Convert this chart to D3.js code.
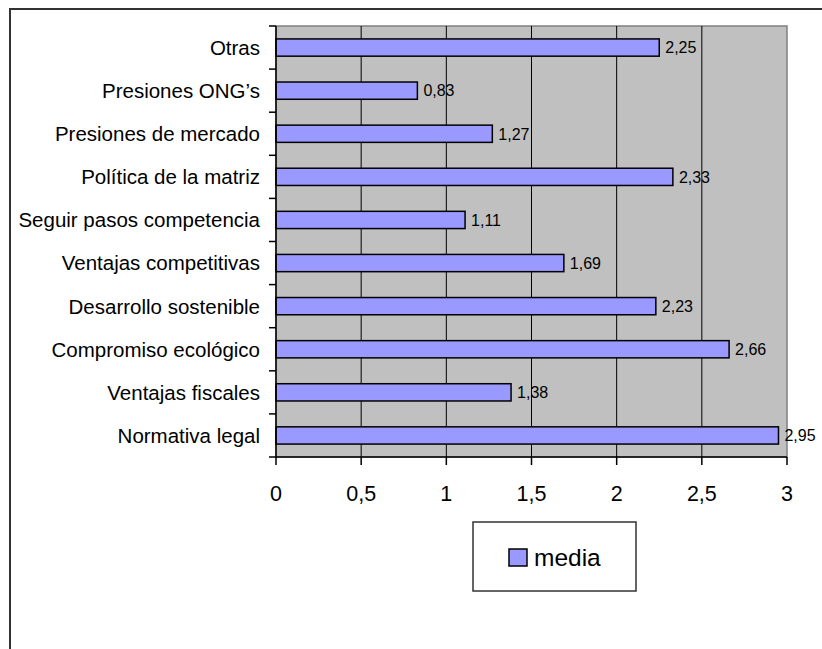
<!DOCTYPE html>
<html>
<head>
<meta charset="utf-8">
<script src="https://cdn.jsdelivr.net/npm/d3@7"></script>
<style>
  html, body { margin: 0; padding: 0; background: #fff; }
  svg { display: block; font-family: "Liberation Sans", Arial, sans-serif; }
</style>
</head>
<body>
<svg id="chart" width="822" height="649"></svg>
<script>
// Motivos y su puntuación media (de arriba a abajo)
const categories = [
  "Otras",
  "Presiones ONG’s",
  "Presiones de mercado",
  "Política de la matriz",
  "Seguir pasos competencia",
  "Ventajas competitivas",
  "Desarrollo sostenible",
  "Compromiso ecológico",
  "Ventajas fiscales",
  "Normativa legal"
];
const media = [2.25, 0.83, 1.27, 2.33, 1.11, 1.69, 2.23, 2.66, 1.38, 2.95];
const xTicks = [0, 0.5, 1, 1.5, 2, 2.5, 3];
const seriesName = "media";

const fmt = v => String(v).replace(".", ",");

const svg = d3.select("#chart");

// Outer frame
svg.append("rect")
  .attr("x", 10).attr("y", 9)
  .attr("width", 830).attr("height", 660)
  .attr("fill", "#fff")
  .attr("stroke", "#333").attr("stroke-width", 2);

const plot = { left: 276, right: 787, top: 26, bottom: 457 };

const x = d3.scaleLinear().domain([0, 3]).range([plot.left, plot.right]);
const y = d3.scaleBand().domain(categories).range([plot.top, plot.bottom]).paddingInner(0.6).paddingOuter(0.3);
const yBand = d3.scaleBand().domain(categories).range([plot.top, plot.bottom]);

// Plot background
svg.append("rect")
  .attr("x", plot.left).attr("y", plot.top)
  .attr("width", plot.right - plot.left).attr("height", plot.bottom - plot.top)
  .attr("fill", "#C0C0C0")
  .attr("stroke", "#808080").attr("stroke-width", 1.5);

// Vertical gridlines
svg.append("g")
  .selectAll("line")
  .data(xTicks.filter(t => t > 0 && t < 3))
  .join("line")
  .attr("x1", d => x(d)).attr("x2", d => x(d))
  .attr("y1", plot.top).attr("y2", plot.bottom)
  .attr("stroke", "#000").attr("stroke-width", 1);

// Bars
svg.append("g")
  .selectAll("rect")
  .data(categories)
  .join("rect")
  .attr("x", x(0))
  .attr("y", d => y(d))
  .attr("width", (d, i) => x(media[i]) - x(0))
  .attr("height", y.bandwidth())
  .attr("fill", "#9999FF")
  .attr("stroke", "#000").attr("stroke-width", 1.5);

// Value labels
svg.append("g")
  .selectAll("text")
  .data(categories)
  .join("text")
  .attr("x", (d, i) => x(media[i]) + 6)
  .attr("y", d => y(d) + y.bandwidth() / 2)
  .attr("dy", "0.36em")
  .attr("font-size", 16)
  .attr("fill", "#000")
  .text((d, i) => fmt(media[i]));

// Y axis: line, ticks at band boundaries, category labels
const yAxis = svg.append("g");
yAxis.append("line")
  .attr("x1", plot.left).attr("x2", plot.left)
  .attr("y1", plot.top).attr("y2", plot.bottom)
  .attr("stroke", "#000").attr("stroke-width", 1.5);
yAxis.selectAll("line.tick")
  .data(categories.map(c => yBand(c)).concat([plot.bottom]))
  .join("line")
  .attr("class", "tick")
  .attr("x1", plot.left - 7).attr("x2", plot.left)
  .attr("y1", d => d).attr("y2", d => d)
  .attr("stroke", "#000").attr("stroke-width", 1.5);
yAxis.selectAll("text")
  .data(categories)
  .join("text")
  .attr("x", plot.left - 16)
  .attr("y", d => yBand(d) + yBand.bandwidth() / 2)
  .attr("dy", "0.36em")
  .attr("text-anchor", "end")
  .attr("font-size", 20.5)
  .attr("fill", "#000")
  .text(d => d);

// X axis
const xAxis = svg.append("g");
xAxis.append("line")
  .attr("x1", plot.left).attr("x2", plot.right)
  .attr("y1", plot.bottom).attr("y2", plot.bottom)
  .attr("stroke", "#000").attr("stroke-width", 1.5);
xAxis.selectAll("line.tick")
  .data(xTicks)
  .join("line")
  .attr("class", "tick")
  .attr("x1", d => x(d)).attr("x2", d => x(d))
  .attr("y1", plot.bottom).attr("y2", plot.bottom + 8)
  .attr("stroke", "#000").attr("stroke-width", 1.5);
xAxis.selectAll("text")
  .data(xTicks)
  .join("text")
  .attr("x", d => x(d))
  .attr("y", 501)
  .attr("text-anchor", "middle")
  .attr("font-size", 21.5)
  .attr("fill", "#000")
  .text(d => fmt(d));

// Legend
const legend = svg.append("g");
legend.append("rect")
  .attr("x", 473).attr("y", 522)
  .attr("width", 163).attr("height", 69)
  .attr("fill", "#fff")
  .attr("stroke", "#333").attr("stroke-width", 1.5);
legend.append("rect")
  .attr("x", 509).attr("y", 549)
  .attr("width", 18).attr("height", 17)
  .attr("fill", "#9999FF")
  .attr("stroke", "#000").attr("stroke-width", 1.5);
legend.append("text")
  .attr("x", 534).attr("y", 566)
  .attr("font-size", 24.5)
  .attr("fill", "#000")
  .text(seriesName);
</script>
</body>
</html>
